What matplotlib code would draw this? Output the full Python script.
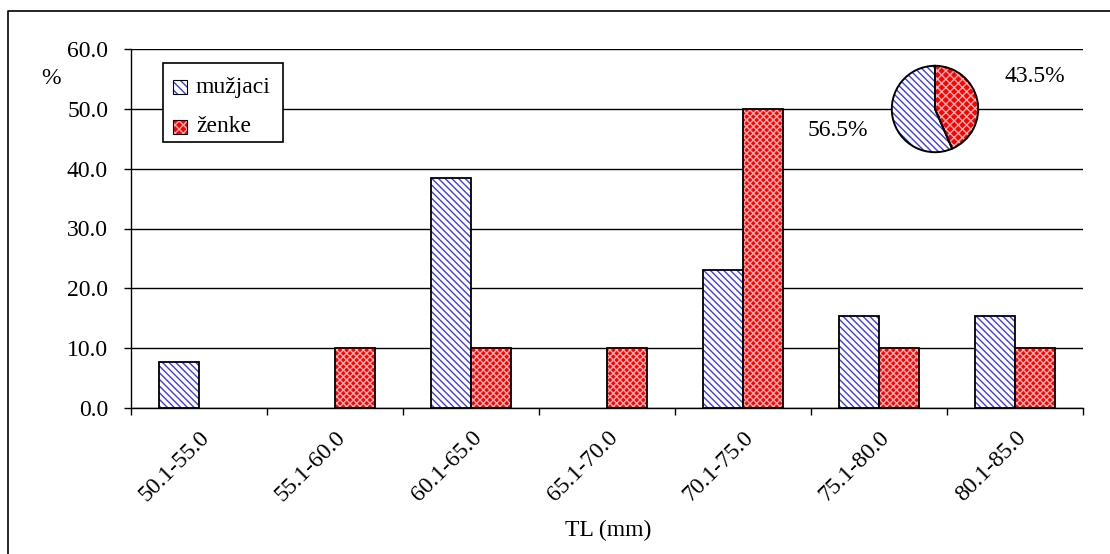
import numpy as np
import matplotlib.pyplot as plt
from matplotlib.patches import Rectangle
from matplotlib.lines import Line2D

plt.rcParams['font.family'] = ['Liberation Serif', 'DejaVu Serif']
plt.rcParams['hatch.linewidth'] = 1.0

# data
categories = ['50.1-55.0', '55.1-60.0', '60.1-65.0', '65.1-70.0', '70.1-75.0', '75.1-80.0', '80.1-85.0']
muzjaci = [7.7, 0, 38.5, 0, 23.1, 15.4, 15.4]
zenke = [0, 10.0, 10.0, 10.0, 50.0, 10.0, 10.0]
pie_vals = [43.5, 56.5]  # zenke, muzjaci
pie_labels = ['43.5%', '56.5%']
series_names = ['mužjaci', 'ženke']

W, H = 1110, 554
BLUE = '#3a3aff'
PINK = '#ffb0b0'
FS = 17


def fx(px):
    return px / W


def fy(py):
    return 1 - py / H


fig = plt.figure(figsize=(W / 100, H / 100), dpi=100)
# frame lines (top and left of the chart area)
fig.lines.append(Line2D([fx(8), fx(8), 1], [0, fy(11), fy(11)], transform=fig.transFigure,
                        color='black', linewidth=1.2))

ax = fig.add_axes([fx(131), fy(408), (1083 - 131) / W, (408 - 49) / H])
x = np.arange(len(categories))
w = 0.294

m_idx = [i for i, v in enumerate(muzjaci) if v > 0]
z_idx = [i for i, v in enumerate(zenke) if v > 0]
m_x = x[m_idx] - w / 2
m_h = [muzjaci[i] for i in m_idx]
z_x = x[z_idx] + w / 2
z_h = [zenke[i] for i in z_idx]

# male bars: blue diagonal hatch
ax.bar(m_x, m_h, w, color='white', edgecolor=BLUE, hatch='\\\\\\\\\\', linewidth=0, zorder=2)
ax.bar(m_x, m_h, w, fill=False, edgecolor='black', linewidth=1.3, zorder=3)
# female bars: red with light crosshatch
ax.bar(z_x, z_h, w, color='#ff0000', edgecolor=PINK, hatch='xxxxx', linewidth=0, zorder=2)
ax.bar(z_x, z_h, w, fill=False, edgecolor='black', linewidth=1.3, zorder=3)

ax.set_xlim(-0.5, len(categories) - 0.5)
ax.set_ylim(0, 60)
yt = np.arange(0, 61, 10)
ax.set_yticks(yt)
ax.set_yticklabels(['%.1f' % v for v in yt], fontsize=FS)
ax.yaxis.grid(True, color='black', linewidth=1)
ax.set_axisbelow(True)

ax.set_xticks(np.arange(len(categories) + 1) - 0.5)
ax.set_xticklabels([])
ax.set_xticks(x, minor=True)
ax.set_xticklabels(categories, minor=True, rotation=45, ha='right', va='top',
                   rotation_mode='anchor', fontsize=FS)
ax.tick_params(axis='x', which='minor', length=0, pad=14)
ax.tick_params(axis='x', which='major', length=5, direction='out', width=1)
ax.tick_params(axis='y', length=5, direction='out', width=1, pad=11.5)

for s in ['top', 'right']:
    ax.spines[s].set_visible(False)
ax.spines['left'].set_linewidth(1)
ax.spines['bottom'].set_linewidth(1)

fig.text(fx(608), fy(530), 'TL (mm)', fontsize=FS, ha='center', va='center')
fig.text(fx(51), fy(78), '%', fontsize=FS, ha='center', va='center')

# legend drawn by hand
fig.patches.append(Rectangle((fx(163), fy(142)), (283 - 163) / W, (142 - 63) / H,
                             transform=fig.transFigure, facecolor='white', edgecolor='black',
                             linewidth=1.2, zorder=5))
handles = [dict(fc='white', ec=BLUE, hatch='\\\\\\\\'), dict(fc='#ff0000', ec=PINK, hatch='xxxx')]
for k, (name, hs) in enumerate(zip(series_names, handles)):
    yc = 87 + k * 40
    fig.patches.append(Rectangle((fx(173), fy(yc + 7)), 14 / W, 14 / H, transform=fig.transFigure,
                                 facecolor=hs['fc'], edgecolor=hs['ec'], hatch=hs['hatch'],
                                 linewidth=0, zorder=6))
    fig.patches.append(Rectangle((fx(173), fy(yc + 7)), 14 / W, 14 / H, transform=fig.transFigure,
                                 fill=False, edgecolor='black', linewidth=0.8, zorder=7))
    fig.text(fx(196), fy(yc), name, fontsize=FS, ha='left', va='center', zorder=8)

# pie inset
R = 54
pax = fig.add_axes([fx(935 - R), fy(109 + R), 2 * R / W, 2 * R / H])
wedges, _ = pax.pie(pie_vals, colors=['#ff0000', 'white'], startangle=90, counterclock=False,
                    wedgeprops=dict(linewidth=0))
wedges[0].set_hatch('xxxx')
wedges[0].set_edgecolor(PINK)
wedges[1].set_hatch('\\\\\\\\\\')
wedges[1].set_edgecolor(BLUE)
pax.pie(pie_vals, colors=['none', 'none'], startangle=90, counterclock=False,
        wedgeprops=dict(edgecolor='black', linewidth=1.4, fill=False))
pax.set_aspect('equal')
fig.text(fx(1035), fy(77), pie_labels[0], fontsize=FS, ha='center', va='center')
fig.text(fx(838), fy(130), pie_labels[1], fontsize=FS, ha='center', va='center')

fig.savefig('out.png', dpi=100)
